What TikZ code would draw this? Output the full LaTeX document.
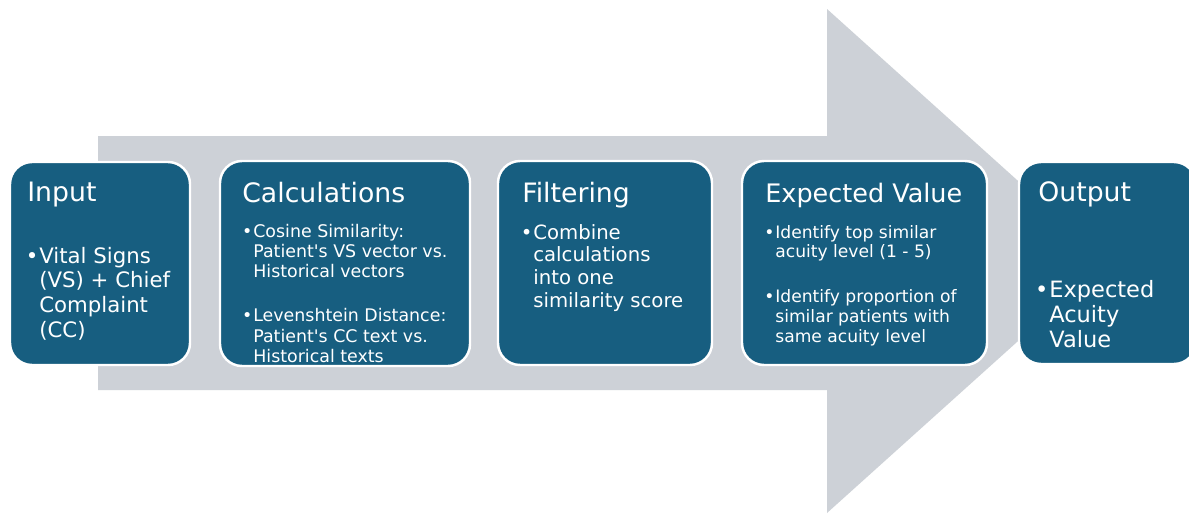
\documentclass[tikz,border=0pt]{standalone}
\usepackage{fontspec}
\setmainfont{DejaVu Sans}[Ligatures=TeXOff]
\definecolor{stageblue}{RGB}{23,94,128}
\definecolor{flowgrey}{RGB}{205,209,215}
\tikzset{
  stage/.style={fill=stageblue, draw=white, line width=1.4pt, rounded corners=0.44cm},
  head/.style={anchor=base west, text=white, inner sep=0pt, font=\fontsize{15.2}{18}\selectfont},
  body/.style={anchor=base west, text=white, inner sep=0pt},
}
\newcommand{\bul}{\llap{\textbullet\hspace{0.5pt}}}

\begin{document}
\begin{tikzpicture}[x=0.02cm, y=-0.02cm]
  % page
  \clip (0,0) rectangle (1189,514);
  \fill[white] (0,0) rectangle (1189,514);
  % wide grey arrow behind the stages
  \fill[flowgrey] (98,136) -- (827,136) -- (827,9) -- (1107,261)
    -- (827,513) -- (827,390) -- (98,390) -- cycle;
  % stage boxes
  \draw[stage] (10,162) rectangle (190,365);
  \draw[stage] (220,161) rectangle (470,366);
  \draw[stage] (498,161) rectangle (712,365);
  \draw[stage] (742,161) rectangle (987,365);
  \draw[stage] (1019,162) rectangle (1196,364);
  % headings
  \node[head] (inhead) at (27,201) {Input};
  \node[head] (calchead) at (242,202) {Calculations};
  \node[head] (filthead) at (522,202) {Filtering};
  \node[head, font=\fontsize{14.5}{17}\selectfont] (evhead) at (765,202) {Expected Value};
  \node[head] (outhead) at (1038,201) {Output};
  % bullet texts
  \node[body, font=\fontsize{12.1}{14.2}\selectfont] (inbody) at (39,263)
    {\begin{tabular}[t]{@{}l@{}}\bul Vital Signs\\ (VS) + Chief\\ Complaint\\ (CC)\end{tabular}};
  \begin{scope}
    \clip[rounded corners=0.4cm] (221,162) rectangle (469,365);
    \node[body, font=\fontsize{9.9}{11.6}\selectfont] (calcbody) at (253,237)
      {\begin{tabular}[t]{@{}l@{}}\bul Cosine Similarity:\\ Patient's VS vector vs.\\ Historical vectors\\[13.4pt]
       \bul Levenshtein Distance:\\ Patient's CC text vs.\\ Historical texts\end{tabular}};
  \end{scope}
  \node[body, font=\fontsize{11.2}{13}\selectfont] (filtbody) at (533,239)
    {\begin{tabular}[t]{@{}l@{}}\bul Combine\\ calculations\\ into one\\ similarity score\end{tabular}};
  \node[body, font=\fontsize{9.75}{11.3}\selectfont] (evbody) at (775,238)
    {\begin{tabular}[t]{@{}l@{}}\bul Identify top similar\\ acuity level (1 - 5)\\[14.2pt]
     \bul Identify proportion of\\ similar patients with\\ same acuity level\end{tabular}};
  \node[body, font=\fontsize{12.8}{14.5}\selectfont] (outbody) at (1049,297)
    {\begin{tabular}[t]{@{}l@{}}\bul Expected\\ Acuity\\ Value\end{tabular}};
\end{tikzpicture}
\end{document}
